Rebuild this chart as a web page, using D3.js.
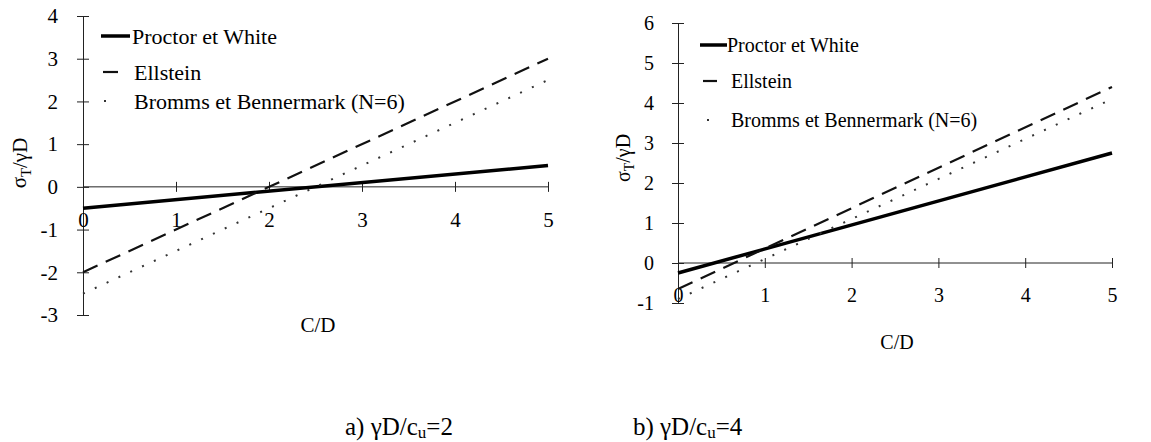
<!DOCTYPE html>
<html>
<head>
<meta charset="utf-8">
<script src="https://cdn.jsdelivr.net/npm/d3@7"></script>
<style>
  html, body { margin: 0; padding: 0; background: #fff; }
  svg { display: block; }
  svg text { font-family: 'Liberation Serif', 'Times New Roman', Times, serif !important; fill: #000; }
</style>
</head>
<body>
<svg id="chart" width="1151" height="442" font-family="Liberation Serif, serif"></svg>
<script>
// ---- data ----
const xValues = [0, 5];
const seriesNames = ["Proctor et White", "Ellstein", "Bromms et Bennermark (N=6)"];
const xTicks = [0, 1, 2, 3, 4, 5];

// a) gammaD/cu = 2
const aProctor = [-0.5, 0.5];
const aEllstein = [-2, 3];
const aBromms = [-2.5, 2.5];
const aYTicks = [-3, -2, -1, 0, 1, 2, 3, 4];

// b) gammaD/cu = 4
const bProctor = [-0.25, 2.75];
const bEllstein = [-0.65, 4.4];
const bBromms = [-0.9, 4.1];
const bYTicks = [-1, 0, 1, 2, 3, 4, 5, 6];

const captions = [["a) γD/c", "u", "=2"], ["b) γD/c", "u", "=4"]];

// ---- drawing ----
const FONT = "Liberation Serif, Times New Roman, serif";
const svg = d3.select("#chart");
svg.append("rect").attr("width", 1151).attr("height", 442).attr("fill", "#fff");

const styles = [
  { width: 3.5, dash: null, color: "#000" },
  { width: 2.2, dash: "16,9", color: "#111" },
  { width: 2, dash: "2,11", color: "#333" }
];

function drawPanel(cfg) {
  const x = d3.scaleLinear().domain([0, 5]).range(cfg.xRange);
  const y = d3.scaleLinear().domain(cfg.yDomain).range(cfg.yRange);
  const g = svg.append("g");
  const fs = cfg.fontSize;

  // y axis
  const yAxis = d3.axisLeft(y).tickValues(cfg.yTicks).tickSize(6).tickPadding(cfg.yPad)
    .tickFormat(d => String(d));
  const ya = g.append("g").attr("transform", `translate(${x(0)},0)`).call(yAxis)
    .attr("font-family", FONT);
  ya.select(".domain").attr("stroke", "#222").attr("stroke-width", 1);
  ya.selectAll(".tick line").attr("x2", 6).attr("x1", -6).attr("stroke", "#222");
  ya.selectAll(".tick text").attr("font-size", fs).attr("font-family", FONT);

  // x axis along y = 0
  const xAxis = d3.axisBottom(x).tickValues(xTicks).tickSize(5).tickPadding(cfg.xPad)
    .tickFormat(d => String(d));
  const xa = g.append("g").attr("transform", `translate(0,${y(0)})`).call(xAxis)
    .attr("font-family", FONT);
  xa.select(".domain").attr("stroke", "#222").attr("stroke-width", 1)
    .attr("d", `M${x(0)},0H${x(5)}`);
  xa.selectAll(".tick line").attr("y1", -5).attr("y2", 5).attr("stroke", "#222");
  xa.selectAll(".tick text").attr("font-size", fs).attr("font-family", FONT);

  // series lines
  const line = d3.line().x((d, i) => x(xValues[i])).y(d => y(d));
  cfg.series.forEach((vals, i) => {
    const s = styles[i];
    g.append("path").datum(vals).attr("d", line)
      .attr("fill", "none").attr("stroke", s.color).attr("stroke-width", s.width)
      .attr("stroke-dasharray", s.dash);
  });

  // legend
  cfg.legend.forEach((L, i) => {
    const s = styles[i];
    g.append("line").attr("x1", L.x1).attr("x2", L.x2).attr("y1", L.y).attr("y2", L.y)
      .attr("stroke", s.color).attr("stroke-width", s.width).attr("stroke-dasharray", s.dash);
    g.append("text").attr("x", L.tx).attr("y", L.y).attr("dy", "0.35em")
      .attr("font-family", FONT).attr("font-size", cfg.legendFont).text(seriesNames[i]);
  });

  // axis titles
  const yl = g.append("text")
    .attr("transform", `translate(${cfg.yLabel[0]},${cfg.yLabel[1]}) rotate(-90)`)
    .attr("text-anchor", "middle").attr("dy", "0.35em")
    .attr("font-family", FONT).attr("font-size", fs);
  yl.append("tspan").text("σ");
  yl.append("tspan").attr("font-size", fs * 0.7).attr("dy", "0.3em").text("T");
  yl.append("tspan").attr("dy", "-0.2em").text("/γD");

  g.append("text").attr("x", cfg.xLabel[0]).attr("y", cfg.xLabel[1])
    .attr("text-anchor", "middle").attr("dy", "0.35em")
    .attr("font-family", FONT).attr("font-size", fs).text("C/D");
}

drawPanel({
  xRange: [83, 548], yDomain: [-3, 4], yRange: [315, 16], yTicks: aYTicks,
  fontSize: 21, legendFont: 22, xPad: 20, yPad: 19,
  series: [aProctor, aEllstein, aBromms],
  legend: [
    { x1: 101, x2: 130, y: 36, tx: 132 },
    { x1: 103, x2: 118, y: 72, tx: 134 },
    { x1: 104, x2: 115, y: 101, tx: 134 }
  ],
  yLabel: [19, 163], xLabel: [318, 325]
});

drawPanel({
  xRange: [678, 1112], yDomain: [-1, 6], yRange: [303, 23], yTicks: bYTicks,
  fontSize: 20, legendFont: 20, xPad: 20, yPad: 18,
  series: [bProctor, bEllstein, bBromms],
  legend: [
    { x1: 700, x2: 727, y: 45, tx: 727 },
    { x1: 703, x2: 717, y: 81, tx: 731 },
    { x1: 707, x2: 710, y: 120, tx: 731 }
  ],
  yLabel: [623, 158], xLabel: [897, 342]
});

// captions
const capX = [345, 633];
captions.forEach((c, i) => {
  const t = svg.append("text").attr("x", capX[i]).attr("y", 435)
    .attr("font-family", FONT).attr("font-size", 25);
  t.append("tspan").text(c[0]);
  t.append("tspan").attr("font-size", 17).attr("dy", 3).text(c[1]);
  t.append("tspan").attr("dy", -3).text(c[2]);
});
</script>
</body>
</html>
